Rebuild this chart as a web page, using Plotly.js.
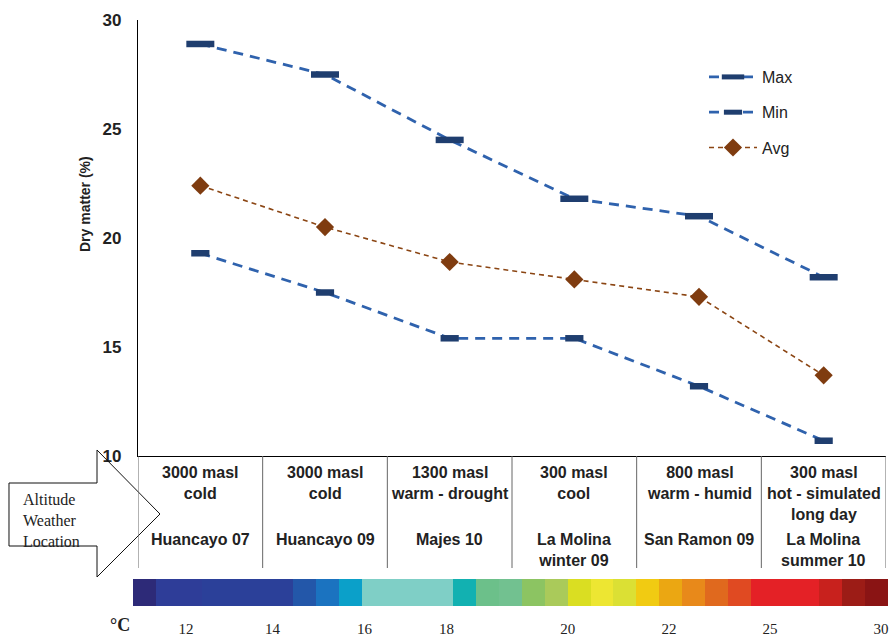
<!DOCTYPE html>
<html><head><meta charset="utf-8">
<script src="https://cdn.plot.ly/plotly-3.0.1.min.js"></script>
<style>html,body{margin:0;padding:0;background:#fff}#chart{width:891px;height:638px}</style>
</head><body><div id="chart"></div>
<script>
// ---- data ----
const locations = ['Huancayo 07', 'Huancayo 09', 'Majes 10', 'La Molina<br>winter 09', 'San Ramon 09', 'La Molina<br>summer 10'];
const altitudes = ['3000 masl', '3000 masl', '1300 masl', '300 masl', '800 masl', '300 masl'];
const weather = ['cold', 'cold', 'warm - drought', 'cool', 'warm - humid', 'hot - simulated<br>long day'];
const maxValues = [28.9, 27.5, 24.5, 21.8, 21.0, 18.2];
const minValues = [19.3, 17.5, 15.4, 15.4, 13.2, 10.7];
const avgValues = [22.4, 20.5, 18.9, 18.1, 17.3, 13.7];
const tempColors = ['#2d2a78', '#2e3d98', '#2e3d98', '#2b4099', '#2b4099', '#2b4099', '#2b4099', '#2357a9',
  '#1b73c0', '#0ba0c9', '#7fcfc6', '#7fcfc6', '#7fcfc6', '#7fcfc6', '#12b1b1', '#6cc08a', '#72c190',
  '#8cc462', '#aaca5a', '#dade22', '#ede632', '#dbe034', '#f1cb12', '#eba712', '#e8891a', '#e0691e',
  '#e04a22', '#e42126', '#e42126', '#e42126', '#c8211d', '#9c1c16', '#8a1414'];
const tempTickText = ['12', '14', '16', '18', '20', '22', '25', '30'];
const tempTickPos = [1.82, 5.6, 9.62, 13.2, 18.5, 22.93, 27.34, 32.19];
const tempMarkPos = [3.65, 7.72, 11.87, 15.93, 20.13, 24.24, 28.35, 32.45];

// ---- helpers for decorative (non-data) geometry in page pixels ----
const W = 891, H = 638, ML = 133, MR = 3, MT = 20, MB = 28;
const PW = W - ML - MR, PH = H - MT - MB;
const PX = px => (px - ML) / PW;
const PY = py => (H - MB - py) / PH;

const sans = 'Liberation Sans, Arial, sans-serif';
const serif = 'Liberation Serif, Times New Roman, serif';

const navy = '#1f3e6f', blue = '#2f62ad', brown = '#8b4513', brownM = '#7f3c10';

const traces = [
  {type: 'scatter', mode: 'lines+markers', name: 'Max', legendgroup: 'max', x: locations, y: maxValues,
   line: {color: blue, width: 2.8, dash: '10px,7px'},
   marker: {symbol: 'line-ew', size: 20, color: navy, line: {color: navy, width: 6.5}}, hoverinfo: 'y'},
  {type: 'scatter', mode: 'lines+markers', name: 'Min', legendgroup: 'min', x: locations, y: minValues,
   line: {color: blue, width: 2.8, dash: '10px,7px'},
   marker: {symbol: 'line-ew', size: 13, color: navy, line: {color: navy, width: 6.5}}, hoverinfo: 'y'},
  {type: 'scatter', mode: 'lines+markers', name: 'Avg', legendgroup: 'avg', x: locations, y: avgValues,
   line: {color: brown, width: 1.6, dash: '5px,4px'},
   marker: {symbol: 'diamond', size: 14, color: brownM}, hoverinfo: 'y'},
  {type: 'heatmap', xaxis: 'x2', yaxis: 'y2', x: tempColors.map((c, i) => i), y: [0],
   z: [tempColors.map((c, i) => i)], zmin: 0, zmax: tempColors.length - 1,
   colorscale: tempColors.map((c, i) => [i / (tempColors.length - 1), c]),
   showscale: false, hoverinfo: 'skip', showlegend: false}
];

const annotations = [];
locations.forEach((loc, i) => {
  annotations.push({x: i, xref: 'x', y: PY(462), yref: 'paper', yanchor: 'top', xanchor: 'center',
    showarrow: false, align: 'center', text: '<b>' + altitudes[i] + '<br>' + weather[i] + '</b>',
    font: {family: sans, size: 16, color: '#222'}});
  annotations.push({x: i, xref: 'x', y: PY(529), yref: 'paper', yanchor: 'top', xanchor: 'center',
    showarrow: false, align: 'center', text: '<b>' + loc + '</b>',
    font: {family: sans, size: 16, color: '#222'}});
});
annotations.push({x: PX(85), xref: 'paper', xanchor: 'center', y: PY(204), yref: 'paper', yanchor: 'middle',
  textangle: -90, showarrow: false,
  text: '<b>Dry matter (%)</b>', font: {family: sans, size: 14, color: '#222'}});
annotations.push({x: PX(21), xref: 'paper', xanchor: 'left', y: PY(520), yref: 'paper', yanchor: 'middle',
  showarrow: false, align: 'left', text: 'Altitude<br>Weather<br>Location',
  font: {family: serif, size: 16, color: '#222'}});
annotations.push({x: PX(120), xref: 'paper', xanchor: 'center', y: PY(625), yref: 'paper', yanchor: 'middle',
  showarrow: false, text: '<b>°C</b>', font: {family: serif, size: 18, color: '#222'}});

const shapes = [];
const arrowPts = [[9, 483], [97, 483], [97, 450], [160, 514], [97, 577], [97, 546], [9, 546]];
shapes.push({type: 'path', xref: 'paper', yref: 'paper',
  path: 'M' + arrowPts.map(p => PX(p[0]).toFixed(5) + ',' + PY(p[1]).toFixed(5)).join(' L') + ' Z',
  line: {color: '#111', width: 1}});
for (let b = -0.5; b <= locations.length - 0.5; b += 1) {
  shapes.push({type: 'line', xref: 'x', yref: 'paper', x0: b, x1: b, y0: PY(568), y1: PY(456),
    line: {color: '#666', width: 1}});
}

const layout = {
  width: W, height: H, margin: {l: ML, r: MR, t: MT, b: MB},
  paper_bgcolor: '#fff', plot_bgcolor: 'rgba(0,0,0,0)',
  font: {family: sans, color: '#222'},
  showlegend: true,
  legend: {x: PX(704), y: PY(60), xanchor: 'left', yanchor: 'top', bgcolor: 'rgba(0,0,0,0)',
    font: {family: sans, size: 16, color: '#222'}, tracegroupgap: 11.5, itemwidth: 48, traceorder: 'grouped'},
  xaxis: {domain: [PX(138), PX(886)], anchor: 'y', type: 'category', range: [-0.5, 5.5],
    showline: true, linecolor: '#000', linewidth: 1.2, showticklabels: false, ticks: '',
    showgrid: false, zeroline: false, fixedrange: true},
  yaxis: {domain: [PY(456), 1], anchor: 'x', range: [10, 30], tickvals: [10, 15, 20, 25, 30],
    showline: true, linecolor: '#000', linewidth: 1.2, ticks: 'outside', ticklen: 12,
    tickcolor: 'rgba(0,0,0,0)', tickfont: {family: sans, size: 17, color: '#222', weight: 'bold'},
    showgrid: false, zeroline: false, fixedrange: true},
  xaxis2: {domain: [0, 1], anchor: 'y2', range: [-0.5, tempColors.length - 0.5],
    tickvals: tempTickPos, ticktext: tempTickText, ticks: 'outside', ticklen: 9,
    tickcolor: 'rgba(0,0,0,0)', tickfont: {family: serif, size: 15, color: '#222'},
    showgrid: false, zeroline: false, showline: false, fixedrange: true},
  xaxis3: {overlaying: 'x2', anchor: 'y2', side: 'top', range: [-0.5, tempColors.length - 0.5],
    tickvals: tempMarkPos, ticks: 'inside', ticklen: 4, tickwidth: 1.5, tickcolor: '#333',
    showticklabels: false, showline: true, linecolor: '#aaa', linewidth: 1,
    showgrid: false, zeroline: false, fixedrange: true},
  yaxis2: {domain: [PY(606), PY(579)], anchor: 'x2', range: [-0.5, 0.5], visible: false, fixedrange: true},
  annotations: annotations,
  shapes: shapes
};

Plotly.newPlot('chart', traces, layout, {displayModeBar: false, staticPlot: true});
</script>
</body></html>
